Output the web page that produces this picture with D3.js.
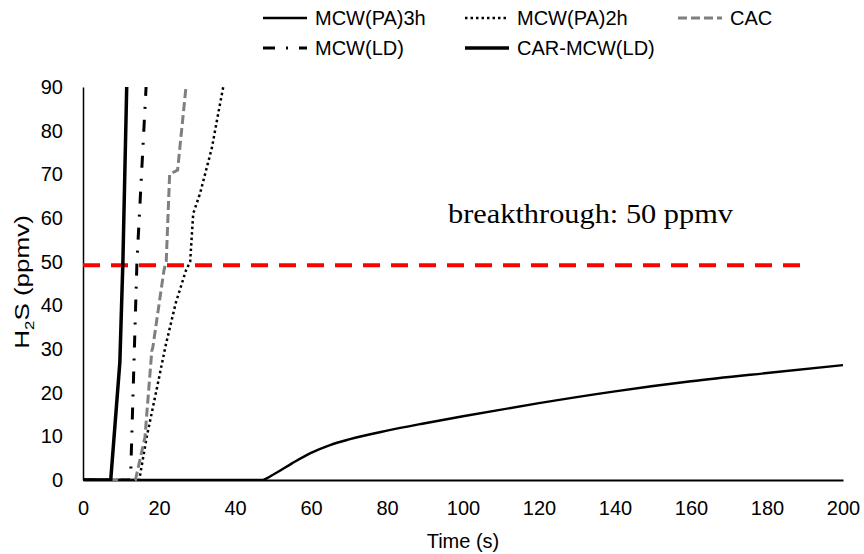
<!DOCTYPE html>
<html>
<head>
<meta charset="utf-8">
<script src="https://cdn.jsdelivr.net/npm/d3@7"></script>
<style>
  body { margin: 0; background: #fff; }
  text { font-family: "Liberation Sans", Arial, sans-serif; fill: #000; }
</style>
</head>
<body>
<script>
// data
const tPA3 = [0, 47, 50, 55, 60, 65, 70, 80, 90, 100, 120, 140, 160, 180, 200];
const vPA3 = [0, 0, 1.2, 3.8, 6.2, 8, 9.3, 11.3, 13, 14.6, 17.6, 20.3, 22.6, 24.5, 26.3];

const tPA2 = [0, 14.8, 16.8, 19.2, 21.8, 24.4, 27.1, 28.2, 29, 30.8, 33.9, 35.6, 36.9];
const vPA2 = [0, 0, 10, 20, 31, 40.5, 48, 50, 61, 65.6, 76, 84, 90];

const tCAC = [0, 13.8, 16.3, 18.1, 18.4, 21.3, 21.9, 22.8, 24.9, 27.1];
const vCAC = [0, 0, 9.8, 29.5, 30.5, 48, 50, 70, 71, 90];

const tLD = [0, 12.5, 14.2, 16.6];
const vLD = [0, 0, 50, 90];

const tCAR = [0, 7.3, 9.7, 10.5, 11.5];
const vCAR = [0, 0, 27, 50, 90];

const breakthrough = 49.2;
const breakEnd = 191.5;

const xTicks = [0, 20, 40, 60, 80, 100, 120, 140, 160, 180, 200];
const yTicks = [0, 10, 20, 30, 40, 50, 60, 70, 80, 90];

const series = [
  {name: "MCW(PA)3h", t: tPA3, v: vPA3, color: "#000", width: 2.4, dash: null, curve: d3.curveMonotoneX},
  {name: "MCW(PA)2h", t: tPA2, v: vPA2, color: "#000", width: 2.5, dash: "2.5,3", curve: d3.curveLinear},
  {name: "CAC", t: tCAC, v: vCAC, color: "#7f7f7f", width: 3, dash: "9,4", curve: d3.curveLinear},
  {name: "MCW(LD)", t: tLD, v: vLD, color: "#000", width: 3, dash: "12,11,2,11", curve: d3.curveLinear},
  {name: "CAR-MCW(LD)", t: tCAR, v: vCAR, color: "#000", width: 3.5, dash: null, curve: d3.curveLinear}
];

const width = 864, height = 554;
const mLeft = 83, mRight = 843, mTop = 87, mBottom = 480;

const svg = d3.select("body").append("svg")
  .attr("width", width)
  .attr("height", height);

const x = d3.scaleLinear().domain([0, 200]).range([mLeft, mRight]);
const y = d3.scaleLinear().domain([0, 90]).range([mBottom, mTop]);

svg.append("defs").append("clipPath").attr("id", "plot")
  .append("rect")
  .attr("x", mLeft).attr("y", mTop - 1)
  .attr("width", mRight - mLeft + 2).attr("height", mBottom - mTop + 2);

// axes
const xAxis = svg.append("g")
  .attr("transform", `translate(0,${mBottom})`)
  .call(d3.axisBottom(x).tickValues(xTicks).tickSize(0).tickPadding(21));
xAxis.select(".domain").attr("stroke", "#000").attr("stroke-width", 2);
xAxis.selectAll("text").style("font-size", "20px");

const yAxis = svg.append("g")
  .attr("transform", `translate(${mLeft},0)`)
  .call(d3.axisLeft(y).tickValues(yTicks).tickSize(0).tickPadding(20));
yAxis.select(".domain").attr("stroke", "#000").attr("stroke-width", 1.5);
yAxis.selectAll("text").style("font-size", "20px");

// breakthrough line
svg.append("line")
  .attr("x1", x(0)).attr("x2", x(breakEnd))
  .attr("y1", y(breakthrough)).attr("y2", y(breakthrough))
  .attr("stroke", "#ff0000")
  .attr("stroke-width", 4)
  .attr("stroke-dasharray", "17,11");

svg.append("text")
  .attr("x", 448).attr("y", 223)
  .style("font-family", "'Liberation Serif', serif")
  .style("font-size", "28px")
  .attr("textLength", 285)
  .attr("lengthAdjust", "spacingAndGlyphs")
  .text("breakthrough: 50 ppmv");

// series lines
const g = svg.append("g").attr("clip-path", "url(#plot)");
series.forEach(s => {
  const pts = s.t.map((t, i) => [t, s.v[i]]);
  const line = d3.line().x(d => x(d[0])).y(d => y(d[1])).curve(s.curve);
  g.append("path")
    .datum(pts)
    .attr("d", line)
    .attr("fill", "none")
    .attr("stroke", s.color)
    .attr("stroke-width", s.width)
    .attr("stroke-dasharray", s.dash);
});

// axis titles
svg.append("text")
  .attr("x", 463).attr("y", 548)
  .attr("text-anchor", "middle")
  .style("font-size", "20px")
  .text("Time (s)");

const yt = svg.append("text")
  .attr("transform", "translate(29,282) rotate(-90) scale(1.3,1)")
  .attr("text-anchor", "middle")
  .style("font-size", "20px");
yt.append("tspan").text("H");
yt.append("tspan").attr("dy", 5).style("font-size", "13px").text("2");
yt.append("tspan").attr("dy", -5).text("S (ppmv)");

// legend
const legendPos = [[263, 18], [465, 18], [678, 18], [263, 48], [465, 48]];
series.forEach((s, i) => {
  const [lx, ly] = legendPos[i];
  const lg = svg.append("g").attr("transform", `translate(${lx},${ly})`);
  lg.append("line")
    .attr("x1", 0).attr("x2", 44)
    .attr("stroke", s.color)
    .attr("stroke-width", s.width)
    .attr("stroke-dasharray", s.dash);
  lg.append("text")
    .attr("x", 52).attr("y", 7)
    .style("font-size", "20px")
    .text(s.name);
});
</script>
</body>
</html>
